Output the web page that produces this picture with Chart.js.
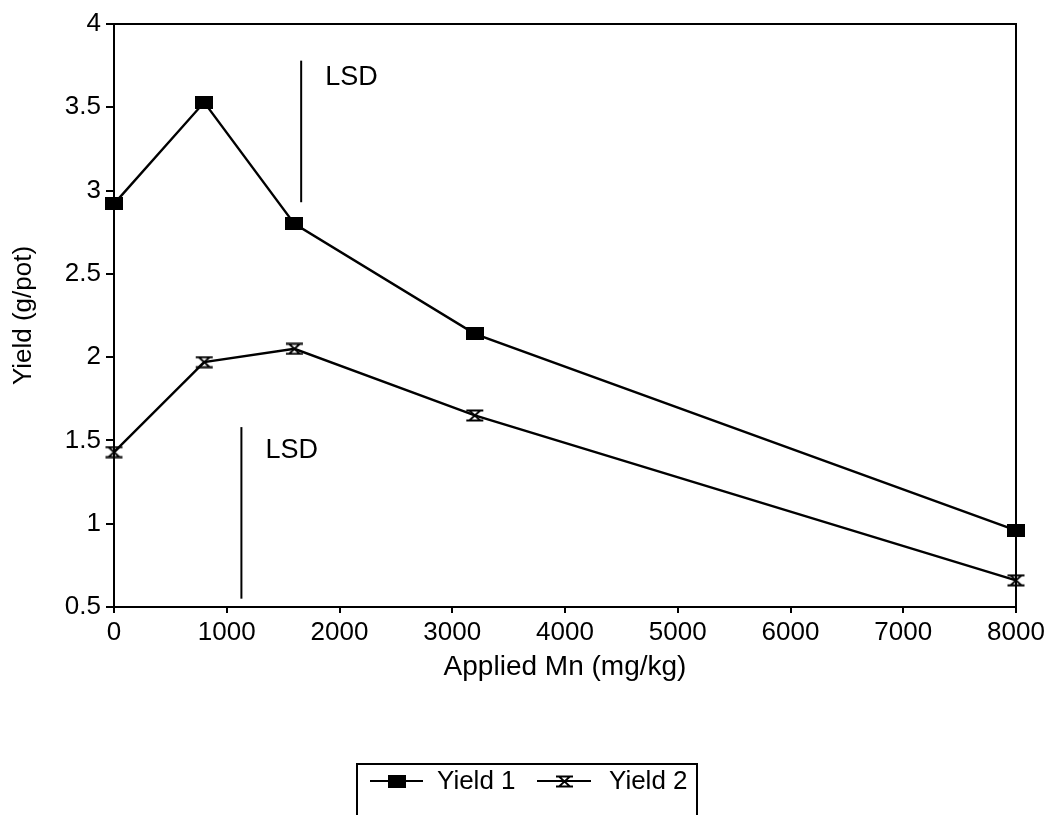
<!DOCTYPE html>
<html>
<head>
<meta charset="utf-8">
<script src="https://cdn.jsdelivr.net/npm/chart.js@4.4.0/dist/chart.umd.min.js"></script>
<style>
html,body{margin:0;padding:0;background:#fff;}
#wrap{width:1051px;height:815px;position:relative;}
</style>
</head>
<body>
<div id="wrap"><canvas id="c" width="1051" height="815"></canvas></div>
<script>
// ---- data ----
const appliedMn = [0, 800, 1600, 3200, 8000];
const yield1 = [2.92, 3.53, 2.80, 2.14, 0.96];
const yield2 = [1.43, 1.97, 2.05, 1.65, 0.66];
const lsdX = [1660, 1130];
const lsdYTop = [3.78, 1.58];
const lsdYBottom = [2.93, 0.55];
const lsdLabelY = [3.68, 1.44];
const seriesNames = ['Yield 1', 'Yield 2'];
const yTicks = [0.5, 1, 1.5, 2, 2.5, 3, 3.5, 4];
const xTicks = [0, 1000, 2000, 3000, 4000, 5000, 6000, 7000, 8000];

const FONT = '"Liberation Sans", Arial, sans-serif';

function squareMarker() {
  const c = document.createElement('canvas');
  c.width = 18; c.height = 13;
  const g = c.getContext('2d');
  g.fillStyle = '#000';
  g.fillRect(0, 0, 18, 13);
  return c;
}
function hourglassMarker() {
  const c = document.createElement('canvas');
  c.width = 19; c.height = 13;
  const g = c.getContext('2d');
  g.strokeStyle = '#000';
  g.lineWidth = 1.8;
  g.beginPath();
  g.moveTo(1, 1.5); g.lineTo(18, 1.5);
  g.moveTo(1, 11.5); g.lineTo(18, 11.5);
  g.moveTo(4, 1.5); g.lineTo(15, 11.5);
  g.moveTo(15, 1.5); g.lineTo(4, 11.5);
  g.stroke();
  return c;
}
const sq = squareMarker();
const hg = hourglassMarker();

const toPts = (ys) => appliedMn.map((x, i) => ({x: x, y: ys[i]}));

const lsdDatasets = lsdX.map((x, i) => ({
  label: 'LSD' + i,
  data: [{x: x, y: lsdYBottom[i]}, {x: x, y: lsdYTop[i]}],
  borderColor: '#000',
  borderWidth: 2,
  pointRadius: 0,
  showLine: true,
  fill: false
}));

const overlay = {
  id: 'overlay',
  beforeDatasetsDraw(chart) {
    const ctx = chart.ctx;
    const a = chart.chartArea;
    ctx.save();
    ctx.strokeStyle = '#000';
    ctx.lineWidth = 2;
    ctx.strokeRect(a.left, a.top, a.right - a.left, a.bottom - a.top);
    ctx.restore();
  },
  afterDatasetsDraw(chart) {
    const ctx = chart.ctx;
    const xs = chart.scales.x, ys = chart.scales.y;
    ctx.save();
    ctx.strokeStyle = '#000';
    ctx.fillStyle = '#000';
    ctx.font = '27px ' + FONT;
    ctx.textBaseline = 'middle';
    ctx.textAlign = 'left';
    lsdX.forEach((x, i) => {
      ctx.fillText('LSD', xs.getPixelForValue(x) + 24, ys.getPixelForValue(lsdLabelY[i]));
    });
    // legend
    ctx.lineWidth = 2;
    ctx.beginPath();
    ctx.moveTo(357, 830); ctx.lineTo(357, 764); ctx.lineTo(697, 764); ctx.lineTo(697, 830);
    ctx.stroke();
    const ly = 781;
    ctx.beginPath();
    ctx.moveTo(370, ly); ctx.lineTo(423, ly);
    ctx.moveTo(537, ly); ctx.lineTo(591, ly);
    ctx.stroke();
    ctx.drawImage(sq, 388, ly - 6);
    ctx.drawImage(hg, 555, ly - 6);
    ctx.font = '26px ' + FONT;
    ctx.fillText(seriesNames[0], 437, ly + 1);
    ctx.fillText(seriesNames[1], 609, ly + 1);
    ctx.restore();
  }
};

new Chart(document.getElementById('c'), {
  type: 'line',
  data: {
    datasets: [
      {
        label: seriesNames[0],
        data: toPts(yield1),
        borderColor: '#000',
        borderWidth: 2.4,
        pointStyle: sq,
        pointRadius: 8,
        fill: false,
        tension: 0,
        clip: false
      },
      {
        label: seriesNames[1],
        data: toPts(yield2),
        borderColor: '#000',
        borderWidth: 2.4,
        pointStyle: hg,
        pointRadius: 8,
        fill: false,
        tension: 0,
        clip: false
      },
      ...lsdDatasets
    ]
  },
  options: {
    responsive: false,
    animation: false,
    events: [],
    layout: {padding: {left: 0, top: 24, right: 35, bottom: 0}},
    plugins: {legend: {display: false}, tooltip: {enabled: false}},
    scales: {
      x: {
        type: 'linear',
        min: 0, max: 8000,
        afterFit(s) { s.height = 208; },
        afterBuildTicks(s) { s.ticks = xTicks.map(v => ({value: v})); },
        ticks: {
          color: '#000',
          font: {family: FONT, size: 26},
          padding: 4,
          maxRotation: 0,
          autoSkip: false,
          callback: (v) => String(v)
        },
        grid: {drawOnChartArea: false, drawTicks: true, tickLength: 6, color: '#000', lineWidth: 2},
        border: {display: true, color: '#000', width: 2},
        title: {
          display: true,
          text: 'Applied Mn (mg/kg)',
          color: '#000',
          font: {family: FONT, size: 28},
          padding: {top: 0, bottom: 131}
        }
      },
      y: {
        type: 'linear',
        min: 0.5, max: 4,
        afterFit(s) { s.width = 114; },
        afterBuildTicks(s) { s.ticks = yTicks.map(v => ({value: v})); },
        ticks: {
          color: '#000',
          font: {family: FONT, size: 26},
          padding: 5,
          autoSkip: false,
          callback: (v) => String(v)
        },
        grid: {drawOnChartArea: false, drawTicks: true, tickLength: 8, color: '#000', lineWidth: 2},
        border: {display: true, color: '#000', width: 2},
        title: {
          display: true,
          text: 'Yield (g/pot)',
          color: '#000',
          font: {family: FONT, size: 26},
          padding: {top: 8, bottom: 0}
        }
      }
    }
  },
  plugins: [overlay]
});
</script>
</body>
</html>
